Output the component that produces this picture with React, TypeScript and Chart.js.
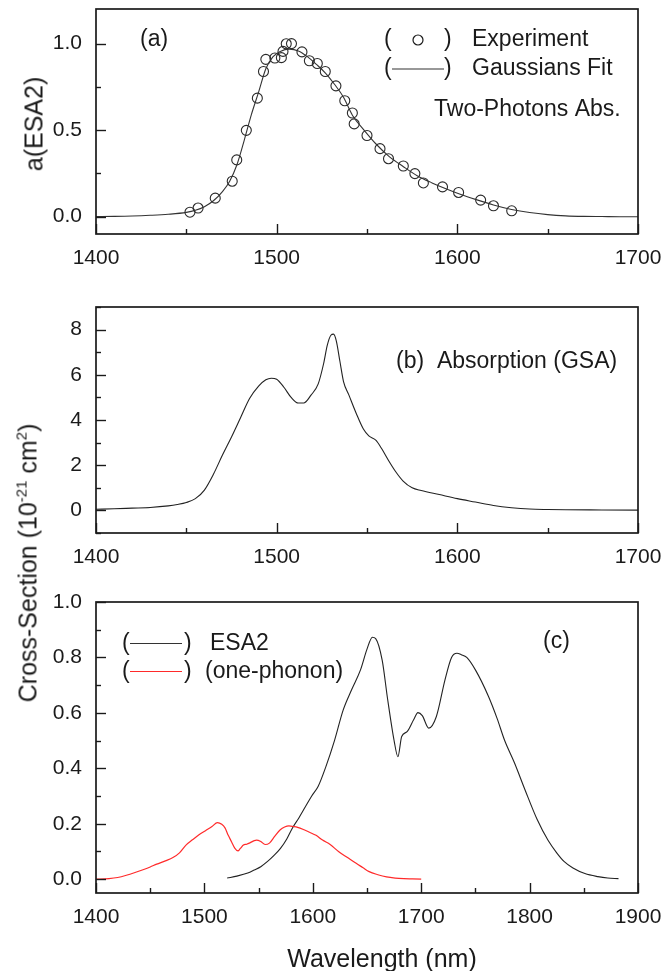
import React, { useEffect, useRef } from 'react';
import { Chart, registerables } from 'chart.js';
Chart.register(...registerables);

const FONT = '"Liberation Sans", Arial, Helvetica, sans-serif';
const INK = '#1a1a1a';
const RED = '#ff2a2a';

// ---------- Panel (a): two-photon absorption ----------
const expWavelength = [1452, 1456.5, 1466, 1475.4, 1477.9, 1483.2, 1489.3, 1492.7, 1494, 1499, 1502.6, 1503.5, 1505.3, 1508.2, 1514, 1518.1, 1522.5, 1526.9, 1532.8, 1537.7, 1541.9, 1542.9, 1550, 1557.2, 1561.9, 1570.1, 1576.5, 1581.2, 1591.8, 1600.7, 1612.9, 1620, 1630.1];
const expValue = [0.026, 0.05, 0.107, 0.205, 0.328, 0.499, 0.685, 0.839, 0.909, 0.917, 0.919, 0.955, 0.999, 1.0, 0.952, 0.901, 0.885, 0.839, 0.756, 0.67, 0.599, 0.536, 0.469, 0.393, 0.335, 0.293, 0.249, 0.195, 0.172, 0.14, 0.096, 0.063, 0.034];
const fitWavelength = [1400, 1410, 1420, 1430, 1440, 1450, 1455, 1460, 1465, 1470, 1474, 1478, 1482, 1486, 1490, 1494, 1498, 1502, 1507, 1512, 1517, 1522, 1527, 1532, 1537, 1542, 1548, 1555, 1562, 1570, 1578, 1586, 1594, 1602, 1610, 1620, 1630, 1640, 1650, 1660, 1670, 1680, 1690, 1700];
const fitValue = [0.001, 0.002, 0.004, 0.008, 0.014, 0.025, 0.037, 0.058, 0.092, 0.145, 0.205, 0.3, 0.44, 0.59, 0.72, 0.855, 0.925, 0.955, 0.968, 0.958, 0.925, 0.88, 0.83, 0.765, 0.69, 0.585, 0.505, 0.42, 0.35, 0.29, 0.235, 0.195, 0.16, 0.128, 0.1, 0.068, 0.042, 0.024, 0.012, 0.005, 0.002, 0.001, 0.0, 0.0];

// ---------- Panel (b): ground-state absorption ----------
const gsaWavelength = [1400, 1410, 1420, 1430, 1440, 1445, 1450, 1455, 1460, 1465, 1470, 1475, 1480, 1485, 1490, 1494, 1497, 1500, 1504, 1508, 1512, 1515, 1519, 1523, 1526, 1528, 1530, 1531.5, 1533, 1535, 1537, 1540, 1544, 1548, 1551, 1555, 1558, 1562, 1566, 1570, 1575, 1580, 1590, 1600, 1610, 1620, 1630, 1640, 1650, 1660, 1680, 1700];
const gsaValue = [0.05, 0.07, 0.1, 0.13, 0.2, 0.26, 0.35, 0.52, 0.9, 1.6, 2.45, 3.25, 4.1, 4.95, 5.5, 5.78, 5.85, 5.8, 5.45, 5.0, 4.75, 4.75, 5.1, 5.6, 6.5, 7.3, 7.75, 7.8, 7.5, 6.6, 5.7, 5.1, 4.3, 3.6, 3.3, 3.1, 2.75, 2.2, 1.7, 1.3, 1.0, 0.88, 0.7, 0.52, 0.37, 0.22, 0.12, 0.06, 0.04, 0.03, 0.02, 0.01];

// ---------- Panel (c): ESA2 and one-phonon ----------
const esa2Wavelength = [1521, 1530, 1540, 1546, 1552, 1558, 1564, 1570, 1576, 1581, 1587, 1593, 1599, 1605, 1612, 1620, 1628, 1636, 1644, 1650, 1655, 1658, 1664, 1669, 1675, 1678.5, 1682, 1687, 1693, 1697, 1701, 1707, 1714, 1722, 1728, 1733, 1737, 1742, 1750, 1762, 1770, 1777, 1786, 1796, 1807, 1817, 1825, 1832, 1840, 1851, 1863, 1872, 1882];
const esa2Value = [0.004, 0.011, 0.022, 0.033, 0.045, 0.063, 0.085, 0.11, 0.145, 0.183, 0.22, 0.26, 0.3, 0.335, 0.405, 0.5, 0.61, 0.685, 0.755, 0.83, 0.873, 0.868, 0.79, 0.65, 0.5, 0.442, 0.515, 0.532, 0.575, 0.601, 0.59, 0.545, 0.587, 0.72, 0.8, 0.815, 0.81, 0.8, 0.755, 0.66, 0.58, 0.5, 0.42, 0.32, 0.215, 0.14, 0.095, 0.063, 0.04, 0.02, 0.009, 0.004, 0.002];
const phononWavelength = [1400, 1412, 1420, 1428, 1436, 1444, 1450, 1456, 1464, 1471, 1477, 1483, 1489, 1495, 1501, 1507, 1512, 1516, 1519, 1522, 1525, 1528, 1531, 1533, 1536, 1539, 1542, 1546, 1548, 1552, 1556, 1560, 1565, 1570, 1574, 1578, 1582, 1586, 1592, 1597, 1603, 1609, 1616, 1624, 1632, 1640, 1646, 1652, 1660, 1668, 1676, 1684, 1692, 1700];
const phononValue = [0.0, 0.002, 0.006, 0.014, 0.024, 0.035, 0.044, 0.054, 0.066, 0.078, 0.095, 0.123, 0.142, 0.16, 0.175, 0.19, 0.204, 0.198, 0.185, 0.158, 0.135, 0.112, 0.102, 0.11, 0.123, 0.126, 0.131, 0.139, 0.141, 0.136, 0.125, 0.13, 0.155, 0.178, 0.188, 0.192, 0.19, 0.187, 0.178, 0.169, 0.158, 0.141, 0.125, 0.099, 0.078, 0.057, 0.042, 0.027, 0.016, 0.008, 0.004, 0.002, 0.001, 0.0];

// ---------- axis ranges / tick steps ----------
const axisA = { xMin: 1400, xMax: 1700, xMajor: 100, xMinor: 50, yMin: -0.1, yMax: 1.2, yMajor: 0.5, yMinor: 0.25, yDigits: 1 };
const axisB = { xMin: 1400, xMax: 1700, xMajor: 100, xMinor: 50, yMin: -1, yMax: 9, yMajor: 2, yMinor: 1, yDigits: 0 };
const axisC = { xMin: 1400, xMax: 1900, xMajor: 100, xMinor: 50, yMin: -0.05, yMax: 1.0, yMajor: 0.2, yMinor: 0.1, yDigits: 1 };

const pts = (xs: number[], ys: number[]) => xs.map((x, i) => ({ x, y: ys[i] }));
const isMult = (v: number, step: number) => Math.abs(v / step - Math.round(v / step)) < 1e-6;
const stepValues = (min: number, max: number, step: number) => {
  const out: number[] = [];
  const k0 = Math.ceil(min / step - 1e-6);
  const k1 = Math.floor(max / step + 1e-6);
  for (let k = k0; k <= k1; k++) out.push(Number((k * step).toFixed(6)));
  return out;
};

type Txt = { text: string; x: number; y: number };
type Sample = { kind: 'circle' | 'line'; x: number; y: number; x2?: number; color?: string };

function framePlugin(axis: any, texts: Txt[], samples: Sample[]) {
  return {
    id: 'frameAndNotes',
    afterDraw(chart: any) {
      const { ctx, chartArea: a, scales } = chart;
      const xs = scales.x;
      const ys = scales.y;
      ctx.save();
      ctx.strokeStyle = INK;
      ctx.lineWidth = 1.7;
      ctx.strokeRect(a.left, a.top, a.right - a.left, a.bottom - a.top);
      ctx.lineWidth = 1.4;
      // inward ticks on bottom axis
      stepValues(axis.xMin, axis.xMax, axis.xMinor).forEach((v) => {
        const px = Math.round(xs.getPixelForValue(v)) + 0.5;
        const len = isMult(v, axis.xMajor) ? 10 : 5;
        ctx.beginPath();
        ctx.moveTo(px, a.bottom);
        ctx.lineTo(px, a.bottom - len);
        ctx.stroke();
      });
      // inward ticks on left axis
      stepValues(axis.yMin, axis.yMax, axis.yMinor).forEach((v) => {
        const py = Math.round(ys.getPixelForValue(v)) + 0.5;
        const len = isMult(v, axis.yMajor) ? 10 : 5;
        ctx.beginPath();
        ctx.moveTo(a.left, py);
        ctx.lineTo(a.left + len, py);
        ctx.stroke();
      });
      // annotation texts
      ctx.fillStyle = INK;
      ctx.font = `23px ${FONT}`;
      ctx.textBaseline = 'middle';
      ctx.textAlign = 'left';
      texts.forEach((t) => ctx.fillText(t.text, t.x, t.y));
      // legend samples
      samples.forEach((s) => {
        ctx.lineWidth = 1.2;
        ctx.strokeStyle = s.color || INK;
        ctx.beginPath();
        if (s.kind === 'circle') {
          ctx.arc(s.x, s.y, 5, 0, Math.PI * 2);
        } else {
          ctx.moveTo(s.x, s.y);
          ctx.lineTo(s.x2 || s.x, s.y);
        }
        ctx.stroke();
      });
      ctx.restore();
    },
  };
}

function buildOptions(axis: any, padTop: number, xAxisHeight: number) {
  return {
    responsive: false,
    animation: false,
    devicePixelRatio: 1,
    layout: { padding: { top: padTop, right: 27, bottom: 0, left: 0 } },
    plugins: { legend: { display: false }, tooltip: { enabled: false } },
    scales: {
      x: {
        type: 'linear',
        min: axis.xMin,
        max: axis.xMax,
        afterBuildTicks: (s: any) => {
          s.ticks = stepValues(axis.xMin, axis.xMax, axis.xMajor).map((value) => ({ value }));
        },
        afterFit: (s: any) => {
          s.height = xAxisHeight;
          s.paddingLeft = 0;
          s.paddingRight = 0;
        },
        grid: { display: false, drawTicks: false },
        border: { display: false },
        ticks: {
          autoSkip: false,
          maxRotation: 0,
          padding: 12,
          color: INK,
          font: { family: FONT, size: 21 },
          callback: (v: number) => String(Math.round(v)),
        },
      },
      y: {
        type: 'linear',
        min: axis.yMin,
        max: axis.yMax,
        afterBuildTicks: (s: any) => {
          s.ticks = stepValues(Math.max(0, axis.yMin), axis.yMax, axis.yMajor).map((value) => ({ value }));
        },
        afterFit: (s: any) => {
          s.width = 96;
          s.paddingTop = 0;
          s.paddingBottom = 0;
        },
        grid: { display: false, drawTicks: false },
        border: { display: false },
        ticks: {
          autoSkip: false,
          padding: 14,
          color: INK,
          font: { family: FONT, size: 21 },
          callback: (v: number) => Number(v).toFixed(axis.yDigits),
        },
      },
    },
  };
}

const lineStyle = (color: string, width = 1.1) => ({
  showLine: true,
  borderColor: color,
  borderWidth: width,
  pointRadius: 0,
  fill: false,
  cubicInterpolationMode: 'monotone' as const,
});

function Panel({ top, height, make }: { top: number; height: number; make: (c: HTMLCanvasElement) => Chart }) {
  const ref = useRef<HTMLCanvasElement | null>(null);
  useEffect(() => {
    if (!ref.current) return;
    const chart = make(ref.current);
    return () => chart.destroy();
  }, []);
  return (
    <canvas
      ref={ref}
      width={665}
      height={height}
      style={{ position: 'absolute', left: 0, top, width: 665, height, display: 'block' }}
    />
  );
}

const makeA = (canvas: HTMLCanvasElement) =>
  new Chart(canvas, {
    type: 'scatter',
    data: {
      datasets: [
        { data: pts(fitWavelength, fitValue), ...lineStyle('#333333', 1.1) },
        {
          data: pts(expWavelength, expValue),
          showLine: false,
          pointStyle: 'circle',
          pointRadius: 5,
          pointBorderWidth: 1.1,
          pointBorderColor: '#2a2a2a',
          pointBackgroundColor: 'rgba(0,0,0,0)',
        },
      ],
    } as any,
    options: buildOptions(axisA, 9, 56) as any,
    plugins: [
      framePlugin(
        axisA,
        [
          { text: '(a)', x: 140, y: 40 },
          { text: '(', x: 384, y: 39.5 },
          { text: ')', x: 444, y: 39.5 },
          { text: 'Experiment', x: 472, y: 39.5 },
          { text: '(', x: 384, y: 68.5 },
          { text: ')', x: 444, y: 68.5 },
          { text: 'Gaussians Fit', x: 472, y: 68.5 },
          { text: 'Two-Photons Abs.', x: 434, y: 110 },
        ],
        [
          { kind: 'circle', x: 418, y: 40 },
          { kind: 'line', x: 392, x2: 444, y: 69, color: '#333333' },
        ]
      ) as any,
    ],
  });

const makeB = (canvas: HTMLCanvasElement) =>
  new Chart(canvas, {
    type: 'scatter',
    data: { datasets: [{ data: pts(gsaWavelength, gsaValue), ...lineStyle('#222222', 1.1) }] } as any,
    options: buildOptions(axisB, 27, 47) as any,
    plugins: [framePlugin(axisB, [{ text: '(b)  Absorption (GSA)', x: 396, y: 362 - 280 }], []) as any],
  });

const makeC = (canvas: HTMLCanvasElement) =>
  new Chart(canvas, {
    type: 'scatter',
    data: {
      datasets: [
        { data: pts(phononWavelength, phononValue), ...lineStyle(RED, 1.2) },
        { data: pts(esa2Wavelength, esa2Value), ...lineStyle('#222222', 1.1) },
      ],
    } as any,
    options: buildOptions(axisC, 22, 78) as any,
    plugins: [
      framePlugin(
        axisC,
        [
          { text: '(c)', x: 543, y: 62 },
          { text: '(', x: 122, y: 64 },
          { text: ')', x: 184, y: 64 },
          { text: 'ESA2', x: 210, y: 64 },
          { text: '(', x: 122, y: 92 },
          { text: ')', x: 184, y: 92 },
          { text: '(one-phonon)', x: 205, y: 92 },
        ],
        [
          { kind: 'line', x: 130, x2: 182, y: 63.5, color: '#333333' },
          { kind: 'line', x: 130, x2: 182, y: 91.5, color: RED },
        ]
      ) as any,
    ],
  });

const titleStyle: React.CSSProperties = {
  position: 'absolute',
  whiteSpace: 'nowrap',
  fontFamily: FONT,
  color: INK,
  lineHeight: 1,
};

export default function App() {
  return (
    <div style={{ position: 'absolute', left: 0, top: 0, width: 665, height: 971, background: '#fff', overflow: 'hidden' }}>
      <Panel top={0} height={290} make={makeA} />
      <Panel top={280} height={300} make={makeB} />
      <Panel top={580} height={391} make={makeC} />
      <div style={{ ...titleStyle, fontSize: 25, left: 34, top: 124, transform: 'translate(-50%, -50%) rotate(-90deg)' }}>
        a(ESA2)
      </div>
      <div style={{ ...titleStyle, fontSize: 25, left: 28, top: 563, transform: 'translate(-50%, -50%) rotate(-90deg)' }}>
        Cross-Section (10
        <span style={{ fontSize: 15, position: 'relative', top: -10 }}>-21</span> cm
        <span style={{ fontSize: 15, position: 'relative', top: -10 }}>2</span>)
      </div>
      <div style={{ ...titleStyle, fontSize: 25, left: 382, top: 958, transform: 'translate(-50%, -50%)' }}>
        Wavelength (nm)
      </div>
    </div>
  );
}
